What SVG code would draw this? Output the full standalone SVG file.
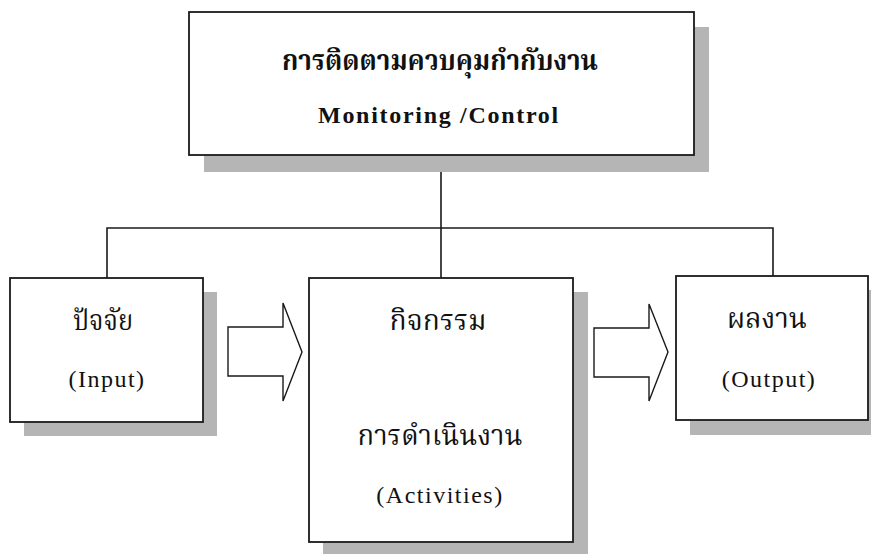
<svg xmlns="http://www.w3.org/2000/svg" width="871" height="554" viewBox="0 0 871 554">
  <style>
    .shadow { fill: #b5b5b5; }
    .box { fill: #ffffff; stroke: #1a1a1a; stroke-width: 1.8; }
    .wire { fill: none; stroke: #1a1a1a; stroke-width: 1.6; }
    .arrow { fill: #ffffff; stroke: #1a1a1a; stroke-width: 1.4; stroke-linejoin: miter; }
    .th { font-family: "Noto Serif Thai", "Noto Sans Thai", "Loma", "Garuda", "Norasi", "Liberation Serif", serif; font-size: 28px; fill: #111; text-anchor: middle; }
    .thb { font-weight: bold; }
    .en { font-family: "Liberation Serif", "Times New Roman", serif; font-size: 24px; fill: #111; text-anchor: middle; letter-spacing: 1.5px; }
    .enb { font-weight: bold; font-size: 24px; letter-spacing: 1.7px; }
  </style>

  <!-- connectors: trunk from the control box down to the three stages -->
  <g id="connectors">
    <path class="wire" d="M441,155 V228"/>
    <path class="wire" d="M107,278 V228 H773 V276"/>
    <path class="wire" d="M441,228 V278"/>
    <path class="arrow" d="M228,327 H283 V303 L302,352 L283,401 V376 H228 Z"/>
    <path class="arrow" d="M594,328 H649 V304 L668,352 L649,401 V377 H594 Z"/>
  </g>

  <g id="control">
    <rect class="shadow" x="204" y="27" width="505" height="145"/>
    <rect class="box" x="189" y="12" width="505" height="143"/>
    <text class="th thb" x="440" y="70" textLength="316" lengthAdjust="spacingAndGlyphs">การติดตามควบคุมกำกับงาน</text>
    <text class="en enb" x="439" y="123">Monitoring /Control</text>
  </g>

  <g id="input">
    <rect class="shadow" x="24" y="292" width="193" height="144"/>
    <rect class="box" x="10" y="278" width="193" height="144"/>
    <text class="th" x="103" y="330" textLength="60" lengthAdjust="spacingAndGlyphs">ปัจจัย</text>
    <text class="en" x="107" y="387">(Input)</text>
  </g>

  <g id="activities">
    <rect class="shadow" x="323" y="292" width="265" height="264"/>
    <rect class="box" x="309" y="278" width="264" height="264"/>
    <text class="th" x="438" y="330" textLength="97" lengthAdjust="spacingAndGlyphs">กิจกรรม</text>
    <text class="th" x="440" y="445" textLength="165" lengthAdjust="spacingAndGlyphs">การดำเนินงาน</text>
    <text class="en" x="440" y="503">(Activities)</text>
  </g>

  <g id="output">
    <rect class="shadow" x="690" y="290" width="192" height="145"/>
    <rect class="box" x="676" y="276" width="192" height="144"/>
    <text class="th" x="767" y="328" textLength="80" lengthAdjust="spacingAndGlyphs">ผลงาน</text>
    <text class="en" x="769" y="387">(Output)</text>
  </g>
</svg>
